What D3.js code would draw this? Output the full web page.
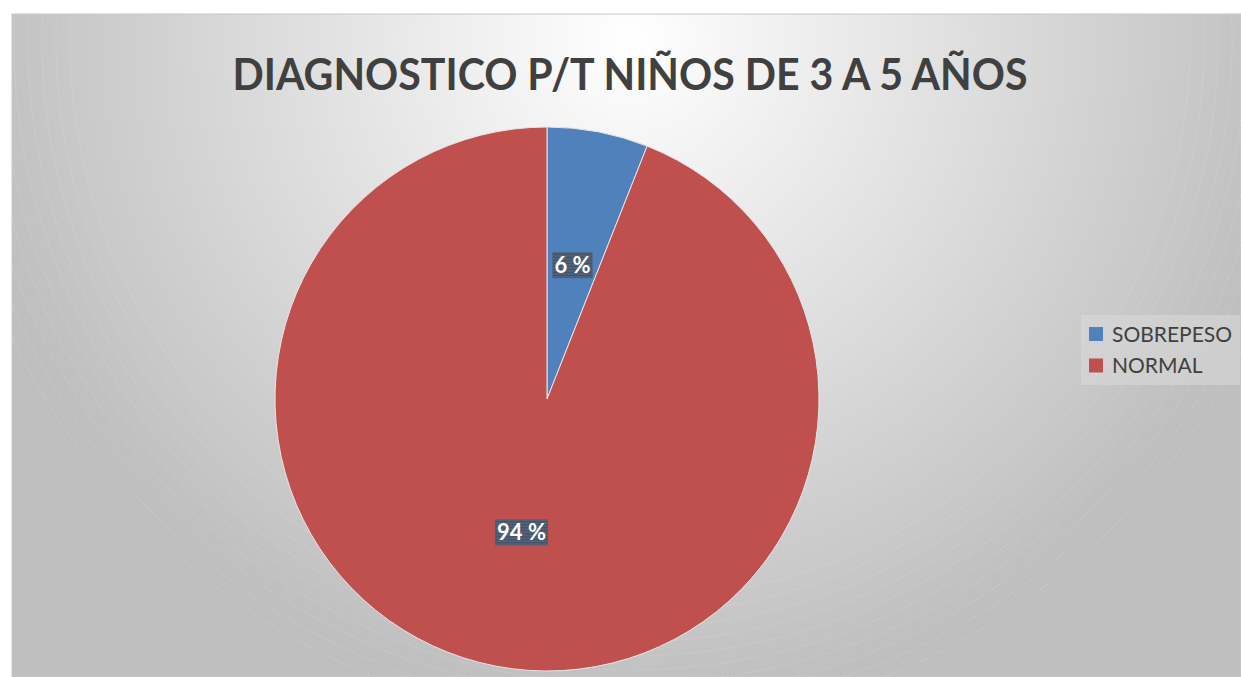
<!DOCTYPE html>
<html>
<head>
<meta charset="utf-8">
<script src="https://cdn.jsdelivr.net/npm/d3@7"></script>
<style>
  html, body { margin: 0; padding: 0; background: #ffffff; }
  svg { display: block; }
</style>
</head>
<body>
<div id="chart"></div>
<script>
// data
var categories = ["SOBREPESO", "NORMAL"];
var values = [6, 94];
var labels = ["6 %", "94 %"];
var colors = ["#4f81bd", "#c0504d"];
var title = "DIAGNOSTICO P/T NIÑOS DE 3 A 5 AÑOS";

var W = 1241, H = 677;
var svg = d3.select("#chart").append("svg")
  .attr("width", W)
  .attr("height", H);

var defs = svg.append("defs");
var grad = defs.append("radialGradient")
  .attr("id", "bg")
  .attr("gradientUnits", "userSpaceOnUse")
  .attr("cx", 630).attr("cy", 40).attr("r", 660);
grad.append("stop").attr("offset", "0%").attr("stop-color", "#ffffff");
grad.append("stop").attr("offset", "100%").attr("stop-color", "#bfbfbf");

var stripes = defs.append("pattern")
  .attr("id", "stripes")
  .attr("patternUnits", "userSpaceOnUse")
  .attr("width", 4).attr("height", 3);
stripes.append("rect").attr("width", 4).attr("height", 3).attr("fill", "#44546a");
stripes.append("rect").attr("y", 2).attr("width", 4).attr("height", 1).attr("fill", "#5b6b82");

var clip = defs.append("clipPath").attr("id", "frameclip");
clip.append("rect").attr("x", 12).attr("y", 14).attr("width", W - 12).attr("height", H - 14);

// chart area background
svg.append("rect")
  .attr("x", 12).attr("y", 14)
  .attr("width", W - 12).attr("height", H - 14)
  .attr("fill", "url(#bg)")
  .attr("stroke", "#c8c8c8")
  .attr("stroke-width", 1);

// faint concentric arcs
var arcs = svg.append("g").attr("clip-path", "url(#frameclip)");
d3.range(560, 700, 14).forEach(function(r) {
  arcs.append("circle")
    .attr("cx", 630).attr("cy", 40).attr("r", r)
    .attr("fill", "none")
    .attr("stroke", "#ffffff")
    .attr("stroke-opacity", 0.25)
    .attr("stroke-dasharray", "2,2")
    .attr("stroke-width", 0.8);
});

// title
svg.append("text")
  .attr("x", 630).attr("y", 90)
  .attr("text-anchor", "middle")
  .attr("font-family", "Lato, 'Open Sans', sans-serif")
  .attr("font-weight", "bold")
  .attr("font-size", 44)
  .attr("fill", "#404040")
  .attr("textLength", 795)
  .attr("lengthAdjust", "spacingAndGlyphs")
  .text(title);

// pie
var cx = 547, cy = 399, radius = 272;
var pie = d3.pie().sort(null).value(function(d) { return d; });
var arc = d3.arc().innerRadius(0).outerRadius(radius);
var labelArc = d3.arc().innerRadius(radius * 0.5).outerRadius(radius * 0.5);

var g = svg.append("g").attr("transform", "translate(" + cx + "," + cy + ")");
var slices = pie(values);

g.selectAll("path.slice")
  .data(slices)
  .enter().append("path")
  .attr("class", "slice")
  .attr("d", arc)
  .attr("fill", function(d, i) { return colors[i]; })
  .attr("stroke", "#e6e6e6")
  .attr("stroke-width", 1);

var lab = g.selectAll("g.lab")
  .data(slices)
  .enter().append("g")
  .attr("class", "lab")
  .attr("transform", function(d) { return "translate(" + labelArc.centroid(d) + ")"; });

lab.each(function(d, i) {
  var el = d3.select(this);
  var t = el.append("text")
    .attr("text-anchor", "middle")
    .attr("dy", "0.35em")
    .attr("font-family", "Lato, 'Open Sans', sans-serif")
    .attr("font-weight", "bold")
    .attr("font-size", 22)
    .attr("fill", "#ffffff")
    .text(labels[i]);
  var bb = t.node().getBBox();
  el.insert("rect", "text")
    .attr("x", bb.x - 2).attr("y", bb.y + 1)
    .attr("width", bb.width + 4).attr("height", bb.height - 1)
    .attr("fill", "url(#stripes)");
});

// legend
var legend = svg.append("g");
legend.append("rect")
  .attr("x", 1081).attr("y", 315)
  .attr("width", 159).attr("height", 70)
  .attr("fill", "#d9d9d9")
  .attr("fill-opacity", 0.6);

var li = legend.selectAll("g.item")
  .data(categories)
  .enter().append("g")
  .attr("class", "item")
  .attr("transform", function(d, i) { return "translate(1089," + (327 + i * 31.5) + ")"; });

li.append("rect")
  .attr("width", 14).attr("height", 14)
  .attr("fill", function(d, i) { return colors[i]; });

li.append("text")
  .attr("x", 23).attr("y", 7)
  .attr("dy", "0.36em")
  .attr("font-family", "Lato, 'Open Sans', sans-serif")
  .attr("font-size", 21)
  .attr("fill", "#404040")
  .text(function(d) { return d; });
</script>
</body>
</html>
